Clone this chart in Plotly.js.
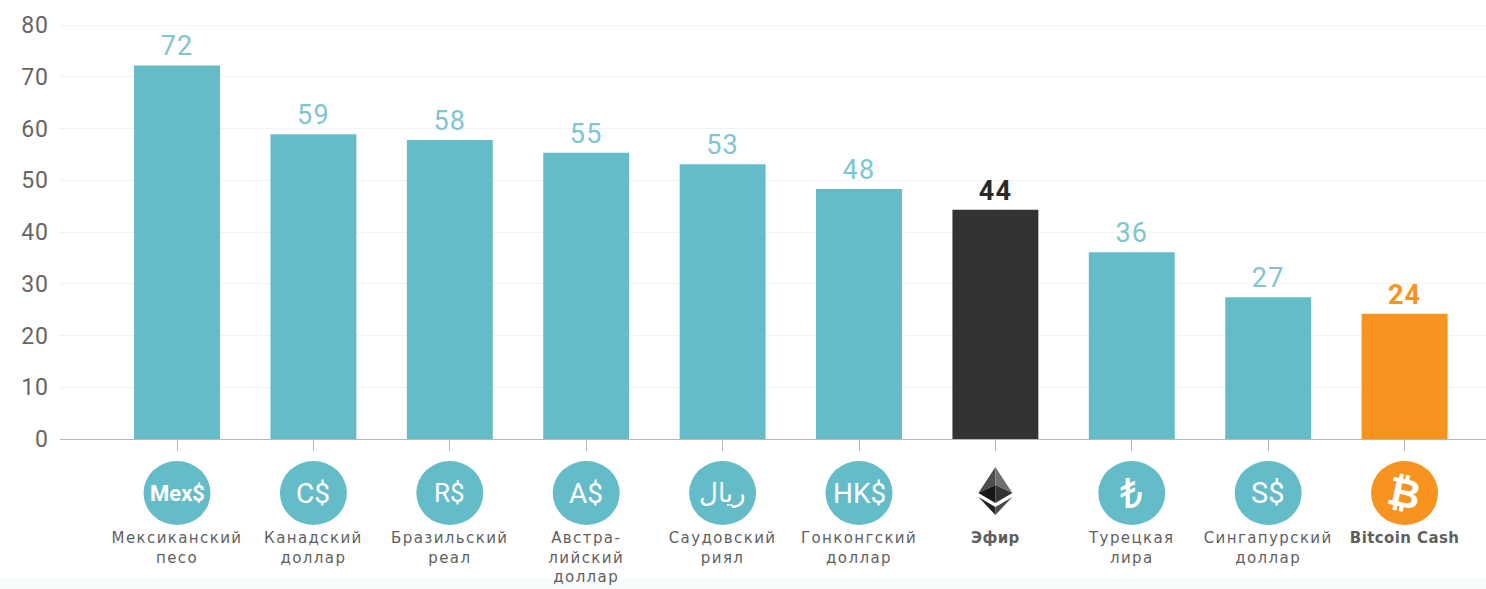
<!DOCTYPE html>
<html><head><meta charset="utf-8">
<script src="https://cdn.plot.ly/plotly-3.0.1.min.js"></script>
<style>html,body{margin:0;padding:0;background:#fff}#c{width:1486px;height:589px}
.xtick text{letter-spacing:1.4px}
.xtick text[data-unformatted*="<b>"]{letter-spacing:.4px}
text.bartext{letter-spacing:1.2px}
.ytick text{letter-spacing:1px}
</style>
</head><body><div id="c"></div>
<script>
const categories = ["Мексиканский<br>песо","Канадский<br>доллар","Бразильский<br>реал","Австра-<br>лийский<br>доллар","Саудовский<br>риял","Гонконгский<br>доллар","<b>Эфир</b>","Турецкая<br>лира","Сингапурский<br>доллар","<b>Bitcoin Cash</b>"];
const values = [72.2,58.9,57.8,55.3,53.1,48.3,44.3,36.1,27.4,24.2];
const valueLabels = ["72","59","58","55","53","48","<b>44</b>","36","27","<b>24</b>"];
const iconText = ["Mex$","C$","R$","A$","ريال","HK$","","₺","S$","₿"];
const iconSizes = [22,28,26,28,26,28,0,42,29,40];
const kinds = ["fiat","fiat","fiat","fiat","fiat","fiat","eth","fiat","fiat","btc"];
const yTicks = [0,10,20,30,40,50,60,70,80];

const barColor = {fiat:"#65bcc9",eth:"#333333",btc:"#f7931e"};
const labelColor = {fiat:"#7fc5d0",eth:"#2a2a2a",btc:"#f7931e"};
const idx = categories.map((_,i)=>i);
const iconY = -54;

const shapes = [{type:"rect",xref:"paper",yref:"paper",x0:-0.05,x1:1.01,y0:-0.362,y1:-0.335,fillcolor:"#f7fbfa",line:{width:0},layer:"below"}];
const annotations = [];
idx.forEach(i=>{
  if(kinds[i]==="eth"){
    const facets=[
      ["M0 -26 L-17 0 L0 -8 Z","#4d4d4d"],["M0 -26 L17 0 L0 -8 Z","#707070"],
      ["M-17 0 L0 10 L0 -8 Z","#161616"],["M17 0 L0 10 L0 -8 Z","#333333"],
      ["M-17 4 L0 22 L0 14 Z","#222222"],["M17 4 L0 22 L0 14 Z","#4a4a4a"]];
    facets.forEach(f=>{
      const flipped=f[0].replace(/(-?\d+) (-?\d+)/g,(m,a,b)=>a+" "+(iconY-Number(b)));
      shapes.push({type:"path",xref:"x",yref:"paper",xsizemode:"pixel",ysizemode:"pixel",xanchor:i,yanchor:0,path:flipped,fillcolor:f[1],line:{width:0}});
    });
    return;
  }
  shapes.push({type:"circle",xref:"x",yref:"paper",xsizemode:"pixel",ysizemode:"pixel",xanchor:i,yanchor:0,
    x0:-33.5,x1:33.5,y0:iconY-32,y1:iconY+32,fillcolor:barColor[kinds[i]],line:{width:0}});
  annotations.push({xref:"x",yref:"paper",x:i,y:0,yshift:iconY,text:iconText[i],showarrow:false,xanchor:"center",yanchor:"middle",
    textangle:i===9?12:0,
    font:{family:"Roboto, 'DejaVu Sans', sans-serif",size:iconSizes[i],color:"#ffffff",weight:i===0||i===9?700:400}});
});

Plotly.newPlot("c",[{
  type:"bar",x:idx,y:values,width:0.63,
  marker:{color:kinds.map(k=>barColor[k]),line:{width:0}},
  text:valueLabels,textposition:"outside",cliponaxis:false,
  textfont:{family:"Roboto, sans-serif",size:27,color:kinds.map(k=>labelColor[k])},
  hoverinfo:"skip"
}],{
  width:1486,height:589,
  margin:{l:60,r:0,t:24,b:150,pad:0},
  paper_bgcolor:"#ffffff",plot_bgcolor:"#ffffff",
  showlegend:false,
  bargap:0.37,
  xaxis:{type:"linear",range:[-0.858,9.597],tickmode:"array",tickvals:idx,ticktext:categories,
    ticks:"outside",ticklen:11,tickwidth:1,tickcolor:"#b9b5bd",ticklabelstandoff:74,
    showgrid:false,zeroline:false,showline:true,linecolor:"#b9b5bd",linewidth:1,
    tickangle:0,tickfont:{family:"'DejaVu Sans', sans-serif",size:15,color:"#5f5f5f"}},
  yaxis:{range:[0,80.2],tickmode:"array",tickvals:yTicks,ticks:"",showgrid:true,gridcolor:"#f3f3f3",gridwidth:1,
    zeroline:false,showline:false,ticklabelstandoff:10,
    tickfont:{family:"Roboto, sans-serif",size:23,color:"#666666"}},
  shapes:shapes,annotations:annotations
},{staticPlot:true,displayModeBar:false});
</script></body></html>
